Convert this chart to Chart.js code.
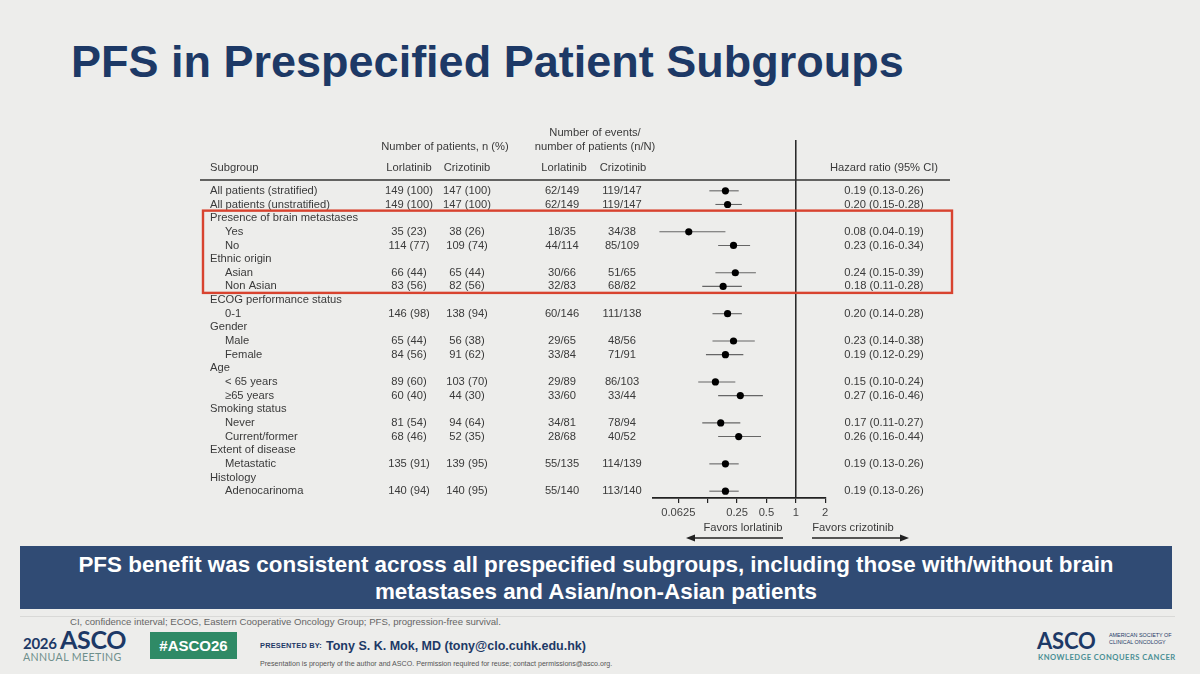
<!DOCTYPE html>
<html>
<head>
<meta charset="utf-8">
<title>PFS in Prespecified Patient Subgroups</title>
<script src="https://cdn.jsdelivr.net/npm/chart.js@4.4.1/dist/chart.umd.min.js"></script>
<style>
  body { margin: 0; width: 1200px; height: 674px; overflow: hidden; position: relative;
         background: #ededeb; font-family: "Liberation Sans", Arial, sans-serif; }
  .abs { position: absolute; white-space: nowrap; }
  #title { left: 71px; top: 39px; font-size: 45px; line-height: 45px; font-weight: bold; color: #1d3966; margin: 0; }
  #banner { left: 20px; top: 546px; width: 1152px; height: 63px; background: #304b74; color: #fff;
            font-weight: bold; font-size: 22.4px; line-height: 27px; text-align: center;
            display: flex; align-items: center; justify-content: center; white-space: normal; }
  #rule { left: 20px; top: 616px; width: 1155px; height: 1px; background: #d9d9d7; }
  #foot { left: 70px; top: 616px; font-size: 9.6px; line-height: 12px; color: #666; }
  #logo2026 { left: 23px; top: 624px; color: #1d3966; font-family: Lato, sans-serif; font-weight: bold; }
  #logo2026 .yr { font-size: 15px; letter-spacing: -0.3px; }
  #logo2026 .asco { font-size: 25px; letter-spacing: -0.3px; }
  #annual { left: 23px; top: 651px; font-family: Lato, sans-serif; font-size: 10.6px; color: #6f8f8c; letter-spacing: 0.4px; }
  #hashtag { left: 150px; top: 632px; width: 87px; height: 27px; background: #2f8a66; color: #fff;
             font-weight: bold; font-size: 15px; line-height: 27px; text-align: center; }
  #presby { left: 260px; top: 640px; font-size: 7.4px; line-height: 12px; font-weight: bold; color: #1d3966; letter-spacing: 0.2px; }
  #presenter { left: 326px; top: 638px; font-size: 12.5px; line-height: 16px; font-weight: bold; color: #1d3966; }
  #property { left: 260px; top: 660px; font-size: 7.1px; line-height: 8px; color: #555; }
  #ascoR { left: 1037px; top: 627px; font-family: Lato, sans-serif; font-size: 22px; font-weight: bold; color: #1d3966; letter-spacing: -0.2px; }
  #society { left: 1109px; top: 632px; font-size: 5.4px; line-height: 7px; color: #1d3966; }
  #knowledge { left: 1038px; top: 652px; font-family: Lato, sans-serif; font-size: 7.6px; font-weight: bold; color: #4a8f94; letter-spacing: 0.5px; }
  #chart { position: absolute; left: 0; top: 0; }
</style>
</head>
<body>
<h1 id="title" class="abs">PFS in Prespecified Patient Subgroups</h1>
<div id="banner" class="abs">PFS benefit was consistent across all prespecified subgroups, including those with/without brain<br>metastases and Asian/non-Asian patients</div>
<div id="rule" class="abs"></div>
<div id="foot" class="abs">CI, confidence interval; ECOG, Eastern Cooperative Oncology Group; PFS, progression-free survival.</div>
<div id="logo2026" class="abs"><span class="yr">2026 </span><span class="asco">ASCO</span></div>
<div id="annual" class="abs">ANNUAL MEETING</div>
<div id="hashtag" class="abs">#ASCO26</div>
<div id="presby" class="abs">PRESENTED BY:</div>
<div id="presenter" class="abs">Tony S. K. Mok, MD (tony@clo.cuhk.edu.hk)</div>
<div id="property" class="abs">Presentation is property of the author and ASCO. Permission required for reuse; contact permissions@asco.org.</div>
<div id="ascoR" class="abs">ASCO</div>
<div id="society" class="abs">AMERICAN SOCIETY OF<br>CLINICAL ONCOLOGY</div>
<div id="knowledge" class="abs">KNOWLEDGE CONQUERS CANCER</div>
<canvas id="chart" width="1200" height="674"></canvas>

<script>
// rows of the forest plot, top to bottom
const rowLabels = ['All patients (stratified)', 'All patients (unstratified)', 'Presence of brain metastases',
  'Yes', 'No', 'Ethnic origin', 'Asian', 'Non Asian', 'ECOG performance status', '0-1', 'Gender', 'Male',
  'Female', 'Age', '< 65 years', '≥65 years', 'Smoking status', 'Never', 'Current/former', 'Extent of disease',
  'Metastatic', 'Histology', 'Adenocarinoma'];
const groupHeadings = ['Presence of brain metastases', 'Ethnic origin', 'ECOG performance status', 'Gender',
  'Age', 'Smoking status', 'Extent of disease', 'Histology'];

const lorN = [149, 149, null, 35, 114, null, 66, 83, null, 146, null, 65, 84, null, 89, 60, null, 81, 68, null, 135, null, 140];
const lorPct = [100, 100, null, 23, 77, null, 44, 56, null, 98, null, 44, 56, null, 60, 40, null, 54, 46, null, 91, null, 94];
const crizN = [147, 147, null, 38, 109, null, 65, 82, null, 138, null, 56, 91, null, 103, 44, null, 94, 52, null, 139, null, 140];
const crizPct = [100, 100, null, 26, 74, null, 44, 56, null, 94, null, 38, 62, null, 70, 30, null, 64, 35, null, 95, null, 95];
const lorEvents = [62, 62, null, 18, 44, null, 30, 32, null, 60, null, 29, 33, null, 29, 33, null, 34, 28, null, 55, null, 55];
const crizEvents = [119, 119, null, 34, 85, null, 51, 68, null, 111, null, 48, 71, null, 86, 33, null, 78, 40, null, 114, null, 113];

const hr = [0.19, 0.20, null, 0.08, 0.23, null, 0.24, 0.18, null, 0.20, null, 0.23, 0.19, null, 0.15, 0.27, null, 0.17, 0.26, null, 0.19, null, 0.19];
const hrLow = [0.13, 0.15, null, 0.04, 0.16, null, 0.15, 0.11, null, 0.14, null, 0.14, 0.12, null, 0.10, 0.16, null, 0.11, 0.16, null, 0.13, null, 0.13];
const hrHigh = [0.26, 0.28, null, 0.19, 0.34, null, 0.39, 0.28, null, 0.28, null, 0.38, 0.29, null, 0.24, 0.46, null, 0.27, 0.44, null, 0.26, null, 0.26];

const xTicks = [0.0625, 0.125, 0.25, 0.5, 1, 2];
const xTickLabels = ['0.0625', '', '0.25', '0.5', '1', '2'];

// boxed rows (brain metastases + ethnic origin)
const boxFrom = 'Presence of brain metastases';
const boxTo = 'Non Asian';

const FONT = '"Liberation Sans", Arial, sans-serif';
const TEXT = '#3a3a3a';
Chart.defaults.font.family = FONT;

const points = [];
hr.forEach((v, i) => { if (v != null) points.push({ x: v, y: rowLabels[i] }); });

const col = { label: 210, indent: 225, lorN: 409, crizN: 467, lorEv: 562, crizEv: 622, hr: 884 };

function arrow(ctx, x0, x1, y) {
  const d = x1 > x0 ? 1 : -1;
  ctx.beginPath(); ctx.moveTo(x0, y); ctx.lineTo(x1 - d * 6, y); ctx.stroke();
  ctx.beginPath(); ctx.moveTo(x1, y); ctx.lineTo(x1 - d * 9, y - 3.5); ctx.lineTo(x1 - d * 9, y + 3.5); ctx.closePath(); ctx.fill();
}

const forestPlugin = {
  id: 'forest',
  beforeDatasetsDraw(chart) {
    const { ctx, chartArea, scales: { x, y } } = chart;
    ctx.save();
    // line of no effect
    const x1 = x.getPixelForValue(1);
    ctx.strokeStyle = '#222'; ctx.lineWidth = 1.5;
    ctx.beginPath(); ctx.moveTo(x1, 140); ctx.lineTo(x1, chartArea.bottom); ctx.stroke();
    // confidence intervals
    ctx.strokeStyle = '#666'; ctx.lineWidth = 1.1;
    hr.forEach((v, i) => {
      if (v == null) return;
      const py = y.getPixelForValue(i);
      ctx.beginPath();
      ctx.moveTo(x.getPixelForValue(hrLow[i]), py);
      ctx.lineTo(x.getPixelForValue(hrHigh[i]), py);
      ctx.stroke();
    });
    ctx.restore();
  },
  afterDraw(chart) {
    const { ctx, scales: { y } } = chart;
    ctx.save();
    ctx.fillStyle = TEXT;
    ctx.textBaseline = 'middle';
    ctx.font = '11.2px ' + FONT;

    // column headings
    ctx.textAlign = 'center';
    ctx.fillText('Number of patients, n (%)', 445, 147);
    ctx.fillText('Number of events/', 595, 133);
    ctx.fillText('number of patients (n/N)', 595, 147);
    ctx.fillText('Lorlatinib', col.lorN, 168);
    ctx.fillText('Crizotinib', col.crizN, 168);
    ctx.fillText('Lorlatinib', col.lorEv + 2, 168);
    ctx.fillText('Crizotinib', col.crizEv + 1, 168);
    ctx.fillText('Hazard ratio (95% CI)', col.hr, 168);
    ctx.textAlign = 'left';
    ctx.fillText('Subgroup', col.label, 168);

    ctx.strokeStyle = '#333'; ctx.lineWidth = 1.7;
    ctx.beginPath(); ctx.moveTo(200, 180); ctx.lineTo(950, 180); ctx.stroke();

    // table body
    let inGroup = false;
    rowLabels.forEach((name, i) => {
      const py = y.getPixelForValue(i);
      const heading = groupHeadings.includes(name);
      if (heading) inGroup = true;
      ctx.textAlign = 'left';
      ctx.fillText(name, inGroup && !heading ? col.indent : col.label, py);
      if (hr[i] == null) return;
      ctx.textAlign = 'center';
      ctx.fillText(lorN[i] + ' (' + lorPct[i] + ')', col.lorN, py);
      ctx.fillText(crizN[i] + ' (' + crizPct[i] + ')', col.crizN, py);
      ctx.fillText(lorEvents[i] + '/' + lorN[i], col.lorEv, py);
      ctx.fillText(crizEvents[i] + '/' + crizN[i], col.crizEv, py);
      ctx.fillText(hr[i].toFixed(2) + ' (' + hrLow[i].toFixed(2) + '-' + hrHigh[i].toFixed(2) + ')', col.hr, py);
    });

    // favours labels and arrows
    ctx.textAlign = 'center';
    ctx.fillText('Favors lorlatinib', 743, 528);
    ctx.fillText('Favors crizotinib', 853, 528);
    ctx.strokeStyle = '#222'; ctx.fillStyle = '#222'; ctx.lineWidth = 1.4;
    arrow(ctx, 783, 686, 538);
    arrow(ctx, 812, 909, 538);

    // highlight box
    const top = y.getPixelForValue(rowLabels.indexOf(boxFrom)) - 7.5;
    const bot = y.getPixelForValue(rowLabels.indexOf(boxTo)) + 6.5;
    ctx.strokeStyle = '#d8432f'; ctx.lineWidth = 2.4;
    ctx.strokeRect(203, top, 749, bot - top);
    ctx.restore();
  }
};

new Chart(document.getElementById('chart'), {
  type: 'scatter',
  data: {
    datasets: [{
      data: points,
      pointRadius: 3.6,
      pointBackgroundColor: '#000',
      pointBorderWidth: 0,
    }]
  },
  options: {
    responsive: false,
    animation: false,
    layout: { padding: { left: 653, right: 374, top: 184, bottom: 156 } },
    plugins: { legend: { display: false }, tooltip: { enabled: false } },
    scales: {
      x: {
        type: 'logarithmic',
        bounds: 'data',
        min: 0.0344,
        max: 2.04,
        afterBuildTicks: (s) => { s.ticks = xTicks.map(v => ({ value: v })); },
        afterFit: (s) => { s.height = 20; },
        ticks: {
          autoSkip: false,
          maxRotation: 0,
          padding: 3,
          color: '#444',
          font: { size: 11.2 },
          callback: (v, i) => xTickLabels[i],
        },
        grid: { drawOnChartArea: false, tickLength: 5, color: '#222', lineWidth: 1.2 },
        border: { display: true, color: '#222', width: 1.8 },
      },
      y: {
        type: 'category',
        labels: rowLabels,
        offset: true,
        display: false,
      }
    }
  },
  plugins: [forestPlugin]
});
</script>
</body>
</html>
